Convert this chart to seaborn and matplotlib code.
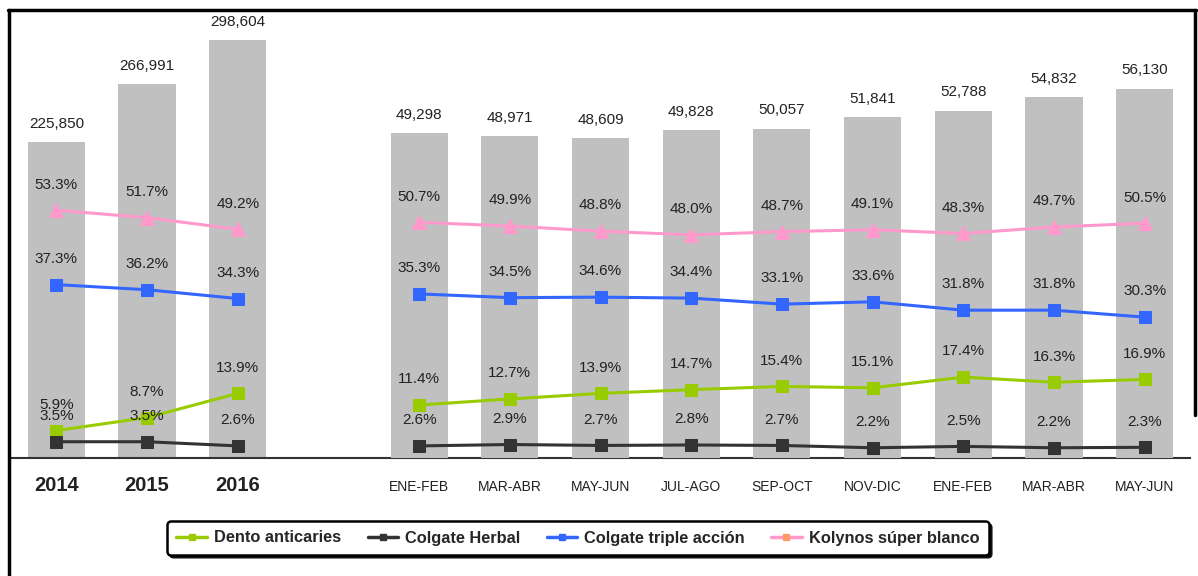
import matplotlib
matplotlib.use('Agg')
import matplotlib.pyplot as plt
import matplotlib.transforms as mtransforms
from matplotlib import font_manager
from matplotlib.lines import Line2D
import seaborn as sns
import pandas as pd

# datos
years = ['2014', '2015', '2016']
year_totals = [225850, 266991, 298604]
months = ['ENE-FEB', 'MAR-ABR', 'MAY-JUN', 'JUL-AGO', 'SEP-OCT', 'NOV-DIC',
          'ENE-FEB', 'MAR-ABR', 'MAY-JUN']
month_totals = [49298, 48971, 48609, 49828, 50057, 51841, 52788, 54832, 56130]

dento_years = [5.9, 8.7, 13.9]
dento_months = [11.4, 12.7, 13.9, 14.7, 15.4, 15.1, 17.4, 16.3, 16.9]
herbal_years = [3.5, 3.5, 2.6]
herbal_months = [2.6, 2.9, 2.7, 2.8, 2.7, 2.2, 2.5, 2.2, 2.3]
triple_years = [37.3, 36.2, 34.3]
triple_months = [35.3, 34.5, 34.6, 34.4, 33.1, 33.6, 31.8, 31.8, 30.3]
kolynos_years = [53.3, 51.7, 49.2]
kolynos_months = [50.7, 49.9, 48.8, 48.0, 48.7, 49.1, 48.3, 49.7, 50.5]

series = [
    ('Dento anticaries', dento_years, dento_months, '#99CC00', 's', 9),
    ('Colgate Herbal', herbal_years, herbal_months, '#333333', 's', 9),
    ('Colgate triple acción', triple_years, triple_months, '#3366FF', 's', 9),
    ('Kolynos súper blanco', kolynos_years, kolynos_months, '#FF99CC', '^', 10.5),
]

sns.set_style('white')
plt.rcParams['font.family'] = ['Liberation Sans', 'DejaVu Sans']
names = {f.name for f in font_manager.fontManager.ttflist}
has_narrow = 'Liberation Sans Narrow' in names

# posiciones: 3 años, un hueco, 9 bimestres
year_x = [0, 1, 2]
month_x = list(range(4, 4 + len(months)))

fig = plt.figure(figsize=(11.98, 5.76), dpi=100)
ax_y = fig.add_axes([11 / 1198, 118 / 576, 1179 / 1198, 443 / 576])
ax_m = ax_y.twinx()
ax_l = ax_y.twinx()

df_y = pd.DataFrame({'x': year_x, 'total': year_totals})
df_m = pd.DataFrame({'x': month_x, 'total': month_totals})
sns.barplot(data=df_y, x='x', y='total', native_scale=True, width=0.63,
            color='#C0C0C0', saturation=1, linewidth=0, ax=ax_y)
sns.barplot(data=df_m, x='x', y='total', native_scale=True, width=0.63,
            color='#C0C0C0', saturation=1, linewidth=0, ax=ax_m)
ax_y.set_ylim(0, 316400)
ax_m.set_ylim(0, 67300)

for ax, xs, vals in [(ax_y, year_x, year_totals), (ax_m, month_x, month_totals)]:
    for x, v in zip(xs, vals):
        ax.annotate(f'{v:,}', (x, v), xytext=(0, 13), textcoords='offset points',
                    ha='center', va='center', fontsize=11, color='#222222')

for name, yv, mv, col, mk, ms in series:
    for xs, vals in [(year_x, yv), (month_x, mv)]:
        sns.lineplot(x=xs, y=vals, color=col, marker=mk, markersize=ms,
                     markeredgecolor=col, linewidth=2.2, ax=ax_l)
        for x, v in zip(xs, vals):
            ax_l.annotate(f'{v:.1f}%', (x, v), xytext=(0, 18.5), textcoords='offset points',
                          ha='center', va='center', fontsize=11, color='#222222')
ax_l.set_ylim(0, 95.3)

for ax in (ax_y, ax_m, ax_l):
    ax.set_xlim(-0.5, 12.5)
    ax.set_ylabel('')
    ax.set_xlabel('')
    ax.set_yticks([])
    ax.patch.set_visible(False)
    for s in ax.spines.values():
        s.set_visible(False)

ax_y.spines['bottom'].set_visible(True)
ax_y.spines['bottom'].set_color('#333333')
ax_y.spines['bottom'].set_linewidth(1.5)
ax_y.set_xticks(year_x + month_x, years + months)
ax_y.set_xticks([i - 0.5 for i in range(14)], minor=True)
ax_y.tick_params(axis='x', which='major', length=0, pad=13)
ax_y.tick_params(axis='x', which='minor', length=5, width=1.3, color='#333333', direction='out')
ax_m.tick_params(axis='x', which='both', length=0, labelbottom=False)
ax_l.tick_params(axis='x', which='both', length=0, labelbottom=False)

shift = mtransforms.ScaledTranslation(0, -3 / 72, fig.dpi_scale_trans)
for i, lab in enumerate(ax_y.get_xticklabels()):
    if i < 3:
        lab.set_fontsize(14.5)
        lab.set_fontweight('bold')
        lab.set_color('#222222')
    else:
        if has_narrow:
            lab.set_family(['Liberation Sans Narrow', 'Liberation Sans'])
            lab.set_fontsize(11.5)
        else:
            lab.set_fontsize(10)
        lab.set_color('#222222')
        lab.set_transform(lab.get_transform() + shift)

# leyenda
handles = []
for name, yv, mv, col, mk, ms in series:
    face = '#FF9966' if name.startswith('Kolynos') else col
    handles.append(Line2D([], [], color=col, linewidth=2.5, marker='s', markersize=5,
                          markerfacecolor=face, markeredgecolor=face))
leg = fig.legend(handles, [s[0] for s in series], loc='center',
                 bbox_to_anchor=(578 / 1198, 1 - 538 / 576), ncol=4,
                 frameon=True, fancybox=True, handlelength=1.85, handletextpad=0.45,
                 columnspacing=1.6, borderpad=0.55,
                 prop={'family': 'Liberation Sans', 'weight': 'bold', 'size': 11.8},
                 shadow={'color': 'black', 'alpha': 0.9})
leg.get_frame().set_edgecolor('black')
leg.get_frame().set_linewidth(1.8)

# marco exterior
fig.add_artist(Line2D([8 / 1198, 1196 / 1198], [1 - 10 / 576, 1 - 10 / 576],
                      transform=fig.transFigure, color='black', linewidth=2.5))
fig.add_artist(Line2D([9 / 1198, 9 / 1198], [0, 1 - 10 / 576],
                      transform=fig.transFigure, color='black', linewidth=2.5))
fig.add_artist(Line2D([1195 / 1198, 1195 / 1198], [1 - 415 / 576, 1 - 10 / 576],
                      transform=fig.transFigure, color='black', linewidth=2.5))

fig.savefig('out.png', dpi=100)
